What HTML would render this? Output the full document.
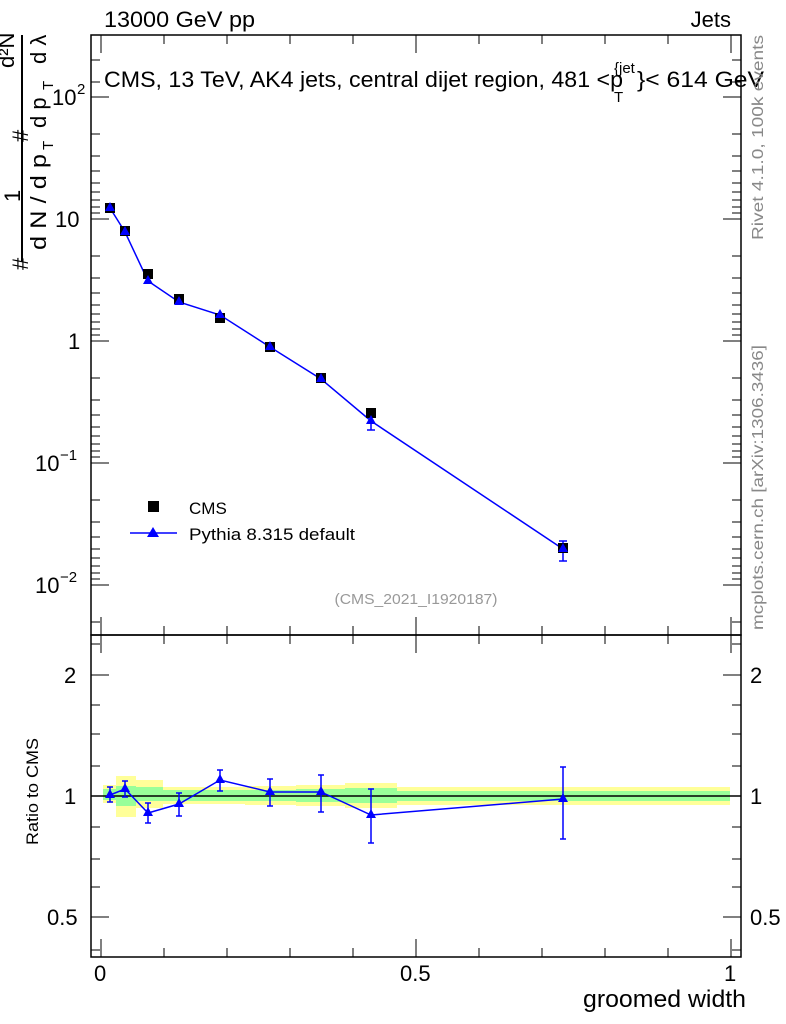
<!DOCTYPE html>
<html><head><meta charset="utf-8"><style>body{margin:0;background:#fff}svg{display:block}text{font-family:"Liberation Sans",sans-serif}</style></head><body>
<svg width="786" height="1024" xmlns="http://www.w3.org/2000/svg">
<g>
<rect x="103" y="785" width="13" height="18" fill="#ffff99"/><rect x="103" y="789" width="13" height="11" fill="#99ff99"/>
<rect x="116" y="776" width="20" height="41" fill="#ffff99"/><rect x="116" y="786" width="20" height="20" fill="#99ff99"/>
<rect x="136" y="780" width="27" height="28" fill="#ffff99"/><rect x="136" y="787" width="27" height="14" fill="#99ff99"/>
<rect x="163" y="787" width="32" height="17" fill="#ffff99"/><rect x="163" y="790" width="32" height="11" fill="#99ff99"/>
<rect x="195" y="787" width="50" height="17" fill="#ffff99"/><rect x="195" y="790" width="50" height="11" fill="#99ff99"/>
<rect x="245" y="786" width="51" height="19" fill="#ffff99"/><rect x="245" y="790" width="51" height="11" fill="#99ff99"/>
<rect x="296" y="785" width="49" height="21" fill="#ffff99"/><rect x="296" y="789" width="49" height="13" fill="#99ff99"/>
<rect x="345" y="783" width="52" height="25" fill="#ffff99"/><rect x="345" y="788" width="52" height="15" fill="#99ff99"/>
<rect x="397" y="787" width="333" height="18" fill="#ffff99"/><rect x="397" y="791" width="333" height="10" fill="#99ff99"/>
</g>
<line x1="91" y1="796" x2="741" y2="796" stroke="#000" stroke-width="1.5"/>
<rect x="91" y="35" width="650" height="600" fill="none" stroke="#000" stroke-width="1.5"/>
<rect x="91" y="635" width="650" height="322" fill="none" stroke="#000" stroke-width="1.5"/>
<g stroke="#000" stroke-width="1">
<path d="M91 97h18M741 97h-18M91 219h18M741 219h-18M91 341h18M741 341h-18M91 463h18M741 463h-18M91 585h18M741 585h-18"/>
<path d="M91 60h9M91 82h9M91 134h9M91 156h9M91 171h9M91 183h9M91 192h9M91 200h9M91 207h9M91 213h9
M91 256h9M91 278h9M91 293h9M91 305h9M91 314h9M91 322h9M91 329h9M91 335h9
M91 378h9M91 400h9M91 415h9M91 427h9M91 436h9M91 444h9M91 451h9M91 457h9
M91 500h9M91 522h9M91 537h9M91 549h9M91 558h9M91 566h9M91 573h9M91 579h9
M91 622h9"/>
<path d="M741 60h-9M741 82h-9M741 134h-9M741 156h-9M741 171h-9M741 183h-9M741 192h-9M741 200h-9M741 207h-9M741 213h-9
M741 256h-9M741 278h-9M741 293h-9M741 305h-9M741 314h-9M741 322h-9M741 329h-9M741 335h-9
M741 378h-9M741 400h-9M741 415h-9M741 427h-9M741 436h-9M741 444h-9M741 451h-9M741 457h-9
M741 500h-9M741 522h-9M741 537h-9M741 549h-9M741 558h-9M741 566h-9M741 573h-9M741 579h-9
M741 622h-9"/>
<path d="M101 635v-18M416 635v-18M731 635v-18M101 35v18M416 35v18M731 35v18M101 957v-18M416 957v-18M731 957v-18M101 635v18M416 635v18M731 635v18"/>
<path d="M164 635v-9M227 635v-9M290 635v-9M353 635v-9M479 635v-9M542 635v-9M605 635v-9M668 635v-9
M164 35v9M227 35v9M290 35v9M353 35v9M479 35v9M542 35v9M605 35v9M668 35v9
M164 957v-9M227 957v-9M290 957v-9M353 957v-9M479 957v-9M542 957v-9M605 957v-9M668 957v-9
M164 635v9M227 635v9M290 635v9M353 635v9M479 635v9M542 635v9M605 635v9M668 635v9"/>
<path d="M91 675h18M741 675h-18M91 796h18M741 796h-18M91 917h18M741 917h-18"/>
<path d="M91 644h9M91 705h9M91 734h9M91 766h9M91 827h9M91 859h9M91 887h9M91 950h9
M741 644h-9M741 705h-9M741 734h-9M741 766h-9M741 827h-9M741 859h-9M741 887h-9M741 950h-9"/>
</g>
<g font-size="22" fill="#000">
<text x="52" y="105">10</text><text x="77" y="94" font-size="15">2</text>
<text x="55" y="227">10</text>
<text x="68" y="349">1</text>
<text x="35" y="471">10</text><text x="60" y="460" font-size="15">−1</text>
<text x="35" y="593">10</text><text x="60" y="582" font-size="15">−2</text>
<text x="64" y="683">2</text><text x="64" y="804">1</text><text x="47" y="925">0.5</text>
<text x="750" y="683">2</text><text x="750" y="804">1</text><text x="750" y="925">0.5</text>
<text x="94" y="981">0</text><text x="400" y="981">0.5</text><text x="724" y="981">1</text>
</g>
<text x="746" y="1007" font-size="24" text-anchor="end" textLength="163" lengthAdjust="spacingAndGlyphs">groomed width</text>
<text x="104" y="27" font-size="22" textLength="151" lengthAdjust="spacingAndGlyphs">13000 GeV pp</text>
<text x="731" y="27" font-size="22" text-anchor="end">Jets</text>
<text x="104" y="87" font-size="22" textLength="519" lengthAdjust="spacingAndGlyphs">CMS, 13 TeV, AK4 jets, central dijet region, 481 &lt;p</text>
<text x="614" y="73" font-size="15">{jet</text><text x="614" y="102" font-size="15">T</text>
<text x="637" y="87" font-size="22" textLength="127" lengthAdjust="spacingAndGlyphs">}&lt; 614 GeV</text>
<text x="416" y="604" font-size="15" fill="#999" text-anchor="middle" textLength="163" lengthAdjust="spacingAndGlyphs">(CMS_2021_I1920187)</text>
<text transform="translate(763,240) rotate(-90)" font-size="16" fill="#888" textLength="205" lengthAdjust="spacingAndGlyphs">Rivet 4.1.0,  100k events</text>
<text transform="translate(763,630) rotate(-90)" font-size="16" fill="#888" textLength="285" lengthAdjust="spacingAndGlyphs">mcplots.cern.ch [arXiv:1306.3436]</text>
<text transform="translate(38,845) rotate(-90)" font-size="17" textLength="107" lengthAdjust="spacingAndGlyphs">Ratio to CMS</text>
<g transform="rotate(-90)" font-size="22" fill="#000">
<line x1="-262" y1="22" x2="-35" y2="22" stroke="#000" stroke-width="2"/>
<text x="-270" y="28">#</text>
<text x="-202" y="20">1</text>
<text x="-142" y="28">#</text>
<text x="-68" y="14">d²N</text>
<text x="-250" y="46" textLength="96" lengthAdjust="spacingAndGlyphs">d N / d p</text>
<text x="-150" y="53" font-size="15">T</text>
<text x="-128" y="46">d p</text>
<text x="-90" y="53" font-size="15">T</text>
<text x="-64" y="46">d λ</text>
</g>
<polyline points="110,208 125,232 148,281 179,302 220,315 270,347 321,379 371,421 563,549" fill="none" stroke="#0000ff" stroke-width="1.5"/>
<g stroke="#0000ff" stroke-width="1.5"><path d="M371,413v17M367,413h8M367,430h8M563,541v20M559,541h8M559,561h8"/></g>
<g fill="#000">
<rect x="105" y="203" width="10" height="10"/><rect x="120" y="226" width="10" height="10"/><rect x="143" y="269" width="10" height="10"/><rect x="174" y="294" width="10" height="10"/><rect x="215" y="313" width="10" height="10"/><rect x="265" y="342" width="10" height="10"/><rect x="316" y="373" width="10" height="10"/><rect x="366" y="408" width="10" height="10"/><rect x="558" y="543" width="10" height="10"/>
</g>
<g fill="#0000ff">
<path d="M110,202l5,9h-10z M125,226l5,9h-10z M148,275l5,9h-10z M179,296l5,9h-10z M220,309l5,9h-10z M270,341l5,9h-10z M321,373l5,9h-10z M371,415l5,9h-10z M563,543l5,9h-10z"/>
</g>
<rect x="148" y="501" width="11" height="11" fill="#000"/>
<text x="189" y="514" font-size="17">CMS</text>
<line x1="130" y1="533" x2="177" y2="533" stroke="#0000ff" stroke-width="1.5"/>
<path d="M153,527l6,10h-12z" fill="#0000ff"/>
<text x="189" y="540" font-size="17" textLength="166" lengthAdjust="spacingAndGlyphs">Pythia 8.315 default</text>
<polyline points="110,795 125,789 148,813 179,804 220,780 270,792 321,792 371,815 563,799" fill="none" stroke="#0000ff" stroke-width="1.5"/>
<g stroke="#0000ff" stroke-width="1.5">
<path d="M110,787v15M107,787h6M107,802h6 M125,781v16M122,781h6M122,797h6 M148,803v20M145,803h6M145,823h6 M179,793v23M176,793h6M176,816h6 M220,770v21M217,770h6M217,791h6 M270,779v27M267,779h6M267,806h6 M321,775v37M318,775h6M318,812h6 M371,789v54M368,789h6M368,843h6 M563,767v72M560,767h6M560,839h6"/>
</g>
<g fill="#0000ff">
<path d="M110,789l5,9h-10z M125,783l5,9h-10z M148,807l5,9h-10z M179,798l5,9h-10z M220,774l5,9h-10z M270,786l5,9h-10z M321,786l5,9h-10z M371,809l5,9h-10z M563,793l5,9h-10z"/>
</g>
</svg>
</body></html>
